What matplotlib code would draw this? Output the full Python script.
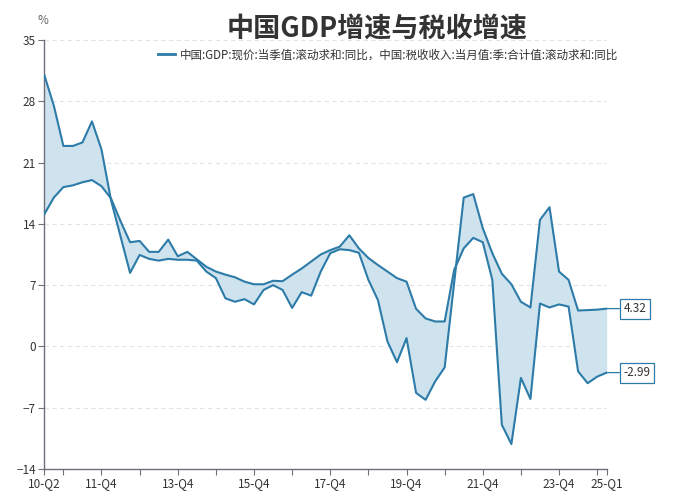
import matplotlib
matplotlib.use("Agg")
import matplotlib.pyplot as plt
from matplotlib.lines import Line2D
import numpy as np

plt.rcParams["font.family"] = ["Noto Sans CJK SC", "DejaVu Sans"]

# 季度类目 10-Q2 ... 25-Q1
quarters = [f"{y:02d}-Q{q}" for y in range(10, 26) for q in range(1, 5)]
quarters = quarters[quarters.index("10-Q2"):quarters.index("25-Q1") + 1]

# 两条线（同一图例，中间填充）
line_a = [31.0, 27.5, 22.9, 22.9, 23.3, 25.7, 22.5, 16.7, 12.55, 8.4,
          10.45, 10.0, 9.8, 10.0, 9.9, 9.9, 9.8, 8.55, 7.8, 5.5,
          5.1, 5.4, 4.8, 6.45, 7.0, 6.45, 4.4, 6.2, 5.8, 8.55,
          10.65, 11.1, 11.0, 10.7, 7.6, 5.3, 0.56, -1.8, 0.95, -5.3,
          -6.1, -4.0, -2.4, 7.3, 17.0, 17.4, 13.5, 10.65, 8.3, 7.1,
          5.1, 4.45, 14.45, 15.9, 8.55, 7.6, 4.1, 4.15, 4.2, 4.32]
line_b = [15.1, 17.0, 18.2, 18.4, 18.75, 19.0, 18.3, 16.9, 14.3, 11.9,
          12.05, 10.8, 10.8, 12.2, 10.3, 10.8, 9.95, 9.1, 8.55, 8.2,
          7.9, 7.4, 7.1, 7.1, 7.5, 7.45, 8.2, 8.9, 9.7, 10.5,
          11.0, 11.4, 12.7, 11.2, 10.1, 9.3, 8.55, 7.8, 7.4, 4.3,
          3.2, 2.85, 2.85, 8.75, 11.2, 12.4, 11.9, 7.6, -8.95, -11.15,
          -3.6, -6.0, 4.9, 4.45, 4.8, 4.55, -2.85, -4.2, -3.45, -2.99]

label_names = ["10-Q2", "11-Q4", "13-Q4", "15-Q4", "17-Q4",
               "19-Q4", "21-Q4", "23-Q4", "25-Q1"]
y_ticks = [-14, -7, 0, 7, 14, 21, 28, 35]

title = "中国GDP增速与税收增速"
legend_name = "中国:GDP:现价:当季值:滚动求和:同比，中国:税收收入:当月值:季:合计值:滚动求和:同比"

LINE = "#2c7ba8"
FILL = "#cfe3ee"
AXIS = "#6e7079"
TEXT = "#333333"
GRID = "#e2e2e2"

W, H = 674, 500
fig = plt.figure(figsize=(W / 100, H / 100), dpi=100, facecolor="white")
ax = fig.add_axes([44.3 / W, 31 / H, (606.7 - 44.3) / W, (469 - 40) / H])

x = np.arange(len(quarters))
ax.fill_between(x, line_a, line_b, color=FILL, lw=0, zorder=1)
ax.plot(x, line_a, color=LINE, lw=1.5, zorder=3)
ax.plot(x, line_b, color=LINE, lw=1.5, zorder=3)

ax.set_xlim(0, len(quarters) - 1)
ax.set_ylim(y_ticks[0], y_ticks[-1])
ax.set_yticks(y_ticks)
ax.yaxis.grid(True, linestyle=(0, (4, 3)), color=GRID, lw=0.8)
ax.set_axisbelow(True)

# x 轴：每年 Q4 一个刻度，首尾加刻度；隔年标注
tick_pos = [0] + [i for i, q in enumerate(quarters) if q.endswith("Q4")] + [len(quarters) - 1]
ax.set_xticks(tick_pos)
ax.set_xticklabels([quarters[i] if quarters[i] in label_names else "" for i in tick_pos])

for s in ("top", "right"):
    ax.spines[s].set_visible(False)
for s in ("left", "bottom"):
    ax.spines[s].set_color(AXIS)
    ax.spines[s].set_linewidth(1.0)
ax.tick_params(direction="out", length=4, color=AXIS, labelcolor=TEXT,
               labelsize=8.5, pad=2)

fig.text(42.5 / W, 1 - 21 / H, "%", color="#666666", fontsize=8.5,
         ha="center", va="center")

fig.text(377 / W, 1 - 29 / H, title, color=TEXT, fontsize=19.5,
         fontweight="bold", ha="center", va="center")

handle = Line2D([], [], color=LINE, lw=2)
ax.legend([handle], [legend_name], loc="center", frameon=False,
          bbox_to_anchor=(388 / W, 1 - 55 / H), bbox_transform=fig.transFigure,
          fontsize=8.3, handlelength=1.5, handletextpad=0.4, labelcolor=TEXT)

# 末值标签
last = len(quarters) - 1
for vals in (line_a, line_b):
    ax.annotate(f"{vals[-1]:.2f}", xy=(last, vals[-1]), xytext=(12, 0),
                textcoords="offset points", ha="left", va="center",
                fontsize=8.5, color=TEXT, annotation_clip=False,
                bbox=dict(boxstyle="square,pad=0.3", fc="white", ec=LINE, lw=0.9),
                arrowprops=dict(arrowstyle="-", color=LINE, lw=0.9,
                                shrinkA=0, shrinkB=0))

fig.savefig("out.png", dpi=100, facecolor="white")
